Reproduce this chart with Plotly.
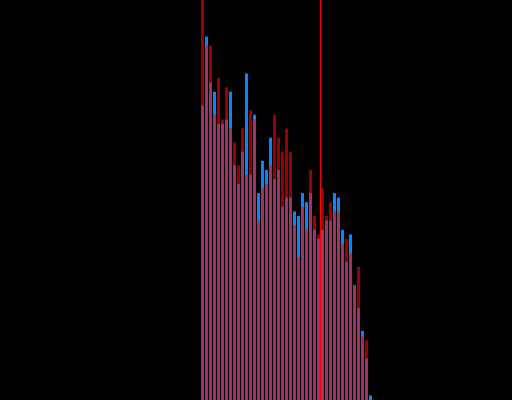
import plotly.graph_objects as go

bins = list(range(43))
blue_counts = [64, 79, 69, 67, 60, 60, 61, 67, 51, 47, 54, 71, 49, 62, 45, 52, 50, 57, 48, 50,
               42, 44, 44, 41, 40, 45, 43, 45, 37, 35, 37, 39, 39, 45, 44, 37, 30, 36, 25, 20,
               15, 9, 1]
red_counts = [88, 77, 77, 62, 70, 61, 68, 59, 56, 51, 59, 49, 63, 61, 39, 46, 47, 51, 62, 57,
              54, 59, 54, 38, 31, 42, 37, 50, 40, 36, 46, 40, 43, 41, 41, 34, 35, 32, 25, 29,
              14, 13, 0]
marker_x = 29.5

fig = go.Figure()
fig.add_trace(go.Bar(x=bins, y=blue_counts, width=0.75,
                     marker=dict(color="#0a84ff", line=dict(width=0))))
fig.add_trace(go.Bar(x=bins, y=red_counts, width=0.75, opacity=0.6,
                     marker=dict(color="#ff0000", line=dict(width=0))))
fig.add_shape(type="line", x0=marker_x, x1=marker_x, y0=0, y1=1, yref="paper",
              line=dict(color="#ff0000", width=1))
fig.update_layout(
    width=512, height=400, barmode="overlay", showlegend=False,
    margin=dict(l=0, r=0, t=0, b=0),
    paper_bgcolor="#000000", plot_bgcolor="#000000",
    xaxis=dict(range=[-202.5 / 4, (512 - 202.5) / 4], visible=False, showgrid=False, zeroline=False),
    yaxis=dict(range=[0, 400 / 4.6], visible=False, showgrid=False, zeroline=False),
)
fig.write_html("out.html", config={"displayModeBar": False},
               post_script="document.body.style.margin='0';document.body.style.background='#000';")
